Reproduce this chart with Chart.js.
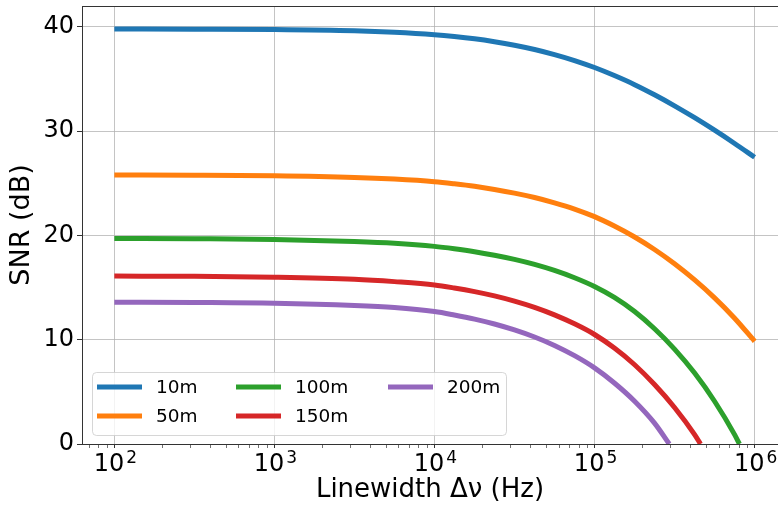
<!DOCTYPE html>
<html>
<head>
<meta charset="utf-8">
<script src="https://cdn.jsdelivr.net/npm/chart.js@4.4.0/dist/chart.umd.min.js"></script>
<style>
  html, body { margin: 0; padding: 0; background: #fff; }
  #wrap { width: 778px; height: 509px; }
</style>
</head>
<body>
<div id="wrap"><canvas id="snrChart"></canvas></div>
<script>
// linewidth (Hz) and SNR (dB)
const nuGrid = [1e2, 3.16e2, 1e3, 3.16e3, 5.62e3, 1e4, 1.33e4, 1.78e4, 2.37e4, 3.16e4, 4.22e4,
                5.62e4, 7.5e4, 1e5, 1.33e5, 1.78e5, 2.37e5, 3.16e5, 4.22e5, 5.62e5, 7.5e5, 1e6];

const nu10m = nuGrid;
const snr10m = [39.8, 39.78, 39.74, 39.62, 39.48, 39.25, 39.08, 38.86, 38.58, 38.24, 37.83,
                37.34, 36.77, 36.10, 35.33, 34.46, 33.49, 32.43, 31.29, 30.09, 28.82, 27.50];

const nu50m = nuGrid;
const snr50m = [25.8, 25.78, 25.72, 25.56, 25.4, 25.15, 24.95, 24.71, 24.41, 24.06, 23.64,
                23.13, 22.53, 21.8, 20.9, 19.85, 18.65, 17.28, 15.73, 14.01, 12.06, 9.85];

const nu100m = nuGrid.slice(0, 21).concat([8.04e5]);
const snr100m = [19.7, 19.68, 19.62, 19.42, 19.25, 18.95, 18.72, 18.44, 18.10, 17.70, 17.22,
                 16.64, 15.94, 15.1, 14.05, 12.7, 11.05, 9.1, 6.8, 4.1, 0.9, 0];

const nu150m = nuGrid.slice(0, 19).concat([4.59e5]);
const snr150m = [16.1, 16.08, 16.0, 15.8, 15.57, 15.25, 14.96, 14.61, 14.2, 13.7, 13.1,
                 12.38, 11.52, 10.5, 9.2, 7.6, 5.7, 3.5, 0.9, 0];

const nu200m = nuGrid.slice(0, 17).concat([2.93e5]);
const snr200m = [13.6, 13.57, 13.5, 13.28, 13.08, 12.7, 12.37, 11.98, 11.51, 10.94, 10.26,
                 9.45, 8.47, 7.3, 5.85, 4.1, 2.0, 0];

const seriesLabels = ['10m', '50m', '100m', '150m', '200m'];
const yTicks = [0, 10, 20, 30, 40];
const xDecades = [1e2, 1e3, 1e4, 1e5, 1e6];

const colors = ['#1f77b4', '#ff7f0e', '#2ca02c', '#d62728', '#9467bd'];
const FONT = "'DejaVu Sans', sans-serif";

function pts(xs, ys) {
  return xs.map((x, i) => ({x: x, y: ys[i]}));
}

const allNu = [nu10m, nu50m, nu100m, nu150m, nu200m];
const allSnr = [snr10m, snr50m, snr100m, snr150m, snr200m];

const datasets = seriesLabels.map((lab, i) => ({
  label: lab,
  data: pts(allNu[i], allSnr[i]),
  borderColor: colors[i],
  backgroundColor: colors[i],
  borderWidth: 5,
  pointRadius: 0,
  fill: false,
  cubicInterpolationMode: 'monotone',
  borderCapStyle: 'butt',
  clip: 0
}));

function isDecade(v) {
  const e = Math.round(Math.log10(v));
  return Math.abs(v - Math.pow(10, e)) < 1e-6 * v;
}

// top spine, 10^n tick labels, matplotlib style legend
const extras = {
  id: 'extras',
  afterDraw(chart) {
    const ctx = chart.ctx;
    const a = chart.chartArea;
    const xs = chart.scales.x;
    ctx.save();
    ctx.strokeStyle = '#333';
    ctx.lineWidth = 1;
    ctx.beginPath();
    ctx.moveTo(a.left, a.top + 0.5);
    ctx.lineTo(a.right, a.top + 0.5);
    ctx.stroke();

    // x tick labels as 10 with superscript exponent
    ctx.fillStyle = '#000';
    ctx.textBaseline = 'alphabetic';
    ctx.textAlign = 'left';
    xDecades.forEach(v => {
      const px = xs.getPixelForValue(v);
      const exp = String(Math.round(Math.log10(v)));
      ctx.font = '24px ' + FONT;
      const w1 = ctx.measureText('10').width;
      ctx.font = '17px ' + FONT;
      const w2 = ctx.measureText(exp).width;
      const x0 = px - (w1 + 2 + w2) / 2 + 1;
      ctx.font = '24px ' + FONT;
      ctx.fillText('10', x0, a.bottom + 27);
      ctx.font = '17px ' + FONT;
      ctx.fillText(exp, x0 + w1 + 2, a.bottom + 19);
    });

    const bx = a.left + 10, by = a.bottom - 72, bw = 414, bh = 63;
    ctx.beginPath();
    ctx.roundRect(bx + 0.5, by + 0.5, bw, bh, 4);
    ctx.fillStyle = 'rgba(255,255,255,0.8)';
    ctx.fill();
    ctx.strokeStyle = 'rgba(204,204,204,0.8)';
    ctx.lineWidth = 1;
    ctx.stroke();

    const colX = [bx + 5, bx + 144, bx + 296];
    const rowY = [by + 15, by + 44];
    ctx.font = '18.5px ' + FONT;
    ctx.textBaseline = 'middle';
    ctx.textAlign = 'left';
    seriesLabels.forEach((lab, i) => {
      const c = Math.floor(i / 2), r = i % 2;
      const x = colX[c], y = rowY[r];
      ctx.strokeStyle = colors[i];
      ctx.lineWidth = 5;
      ctx.beginPath();
      ctx.moveTo(x, y);
      ctx.lineTo(x + 45, y);
      ctx.stroke();
      ctx.fillStyle = '#000';
      ctx.fillText(lab, x + 59, y + 1);
    });
    ctx.restore();
  }
};

new Chart(document.getElementById('snrChart'), {
  type: 'line',
  data: { datasets: datasets },
  options: {
    responsive: true,
    maintainAspectRatio: false,
    animation: false,
    layout: { padding: { top: 6, right: 0, left: 0, bottom: 0 } },
    plugins: {
      legend: { display: false },
      tooltip: { enabled: false }
    },
    scales: {
      x: {
        type: 'logarithmic',
        min: 62.8,
        max: 1.4e6,
        afterBuildTicks(scale) {
          scale.ticks = scale.ticks.filter(t => {
            const e = Math.floor(Math.log10(t.value) + 1e-9);
            const s = t.value / Math.pow(10, e);
            return Math.abs(s - Math.round(s)) < 1e-6;
          });
        },
        afterFit(scale) {
          scale.height = 65;
          scale.paddingLeft = 0;
          scale.paddingRight = 0;
        },
        ticks: {
          autoSkip: false,
          maxRotation: 0,
          padding: 1,
          color: '#000',
          font: { family: FONT, size: 24 },
          callback: () => ''
        },
        grid: {
          color: (c) => (c.tick && isDecade(c.tick.value)) ? 'rgba(176,176,176,0.75)' : 'rgba(0,0,0,0)',
          tickColor: '#333',
          tickLength: 4,
          lineWidth: 1,
          tickWidth: (c) => (c.tick && isDecade(c.tick.value)) ? 1 : 0.7
        },
        border: { display: true, color: '#333', width: 1 },
        title: {
          display: true,
          text: 'Linewidth Δν (Hz)',
          color: '#000',
          font: { family: FONT, size: 26 },
          padding: { top: 0, bottom: 3 }
        }
      },
      y: {
        min: 0,
        max: 42,
        afterBuildTicks(scale) {
          scale.ticks = yTicks.map(v => ({value: v}));
        },
        afterFit(scale) {
          scale.width = 82;
          scale.paddingTop = 0;
          scale.paddingBottom = 0;
        },
        ticks: {
          padding: 3,
          color: '#000',
          font: { family: FONT, size: 24 }
        },
        grid: {
          color: 'rgba(176,176,176,0.75)',
          tickColor: '#333',
          tickLength: 5,
          lineWidth: 1
        },
        border: { display: true, color: '#333', width: 1 },
        title: {
          display: true,
          text: 'SNR (dB)',
          color: '#000',
          font: { family: FONT, size: 27 },
          padding: { top: 6, bottom: 0 }
        }
      }
    }
  },
  plugins: [extras]
});
</script>
</body>
</html>
